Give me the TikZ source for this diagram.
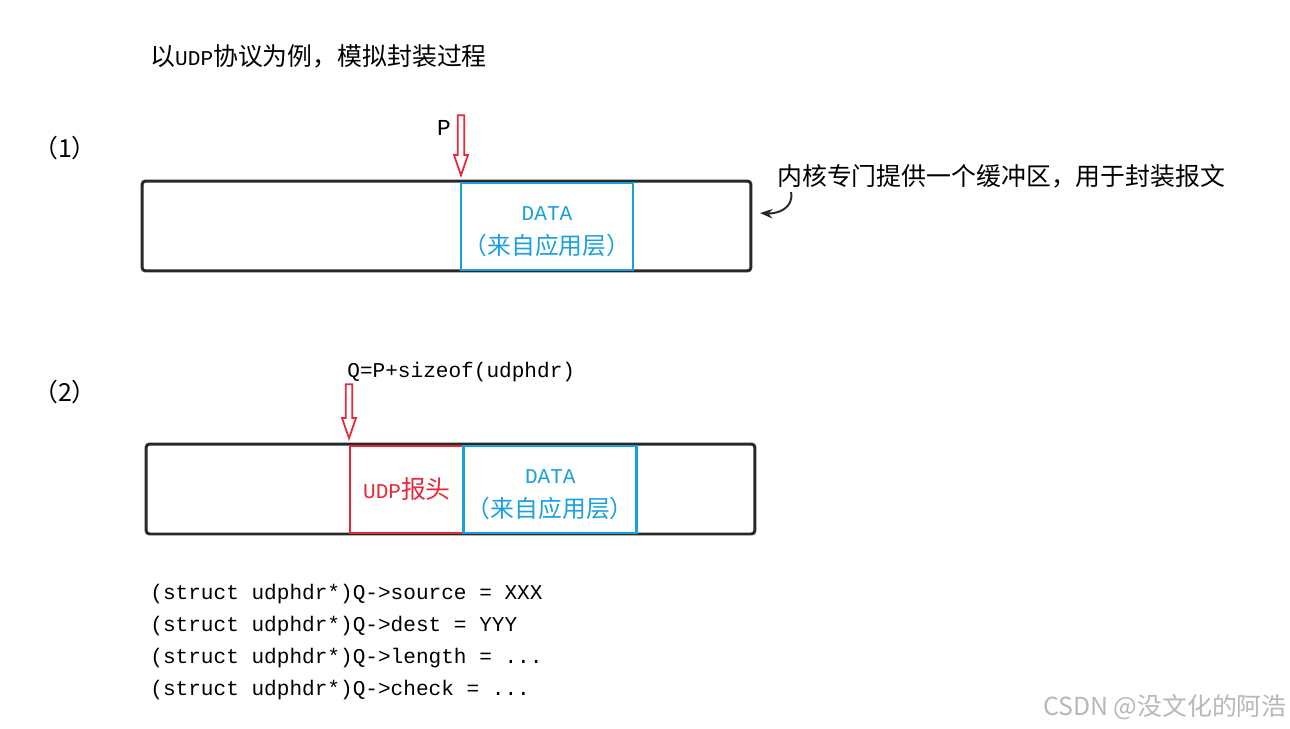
\documentclass[tikz,border=0pt]{standalone}
\usepackage{fontspec}
\usepackage{tikz}
\usepackage{xcolor}
\usetikzlibrary{positioning, shapes.arrows, arrows.meta}
\setmainfont{Liberation Mono}
\newfontfamily\cjk{Noto Sans CJK SC}[Scale=1.18]
\definecolor{data-blue}{RGB}{26, 160, 224}
\definecolor{hdr-red}{RGB}{232, 40, 58}
\definecolor{buf-black}{RGB}{40, 40, 40}

\begin{document}
\begin{tikzpicture}[x=0.02cm, y=-0.02cm]
				\tikzset{txt/.style={font=\fontsize{12}{14}\selectfont, inner sep=0pt}}
				\tikzset{buf/.style={rectangle, draw=buf-black, line width=1.7pt, rounded corners=2pt, minimum width=12.18cm, minimum height=1.8cm}}
				\tikzset{data/.style={rectangle, draw=data-blue, line width=1.6pt, inner sep=1pt, minimum width=3.44cm, minimum height=1.74cm, text=data-blue, align=center, font=\fontsize{11.5}{18}\selectfont}}
				\tikzset{hdr/.style={rectangle, draw=hdr-red, line width=1.4pt, minimum width=2.28cm, minimum height=1.74cm, text=hdr-red, font=\fontsize{12}{14}\selectfont}}
				\tikzset{ptr/.style={single arrow, draw=hdr-red, line width=1pt, rotate=-90, inner sep=0.045cm, minimum width=0.28cm, single arrow head extend=0.07cm, single arrow tip angle=38, anchor=tip}}
				\newcommand{\datatext}{\rule{0pt}{14pt}{\fontsize{12}{14}\selectfont DATA}\\[1pt]{\cjk （来自应用层）}}
				\useasboundingbox (0,0) rectangle (1290,729);
				
				\node[txt, anchor=west, font=\fontsize{12}{14}\selectfont] (title) at (150,56) {{\cjk 以}UDP{\cjk 协议为例，模拟封装过程}};
				
				% (1)
				\node[txt] (step1) at (65,148) {\cjk （1）};
				\node[buf] (buf1) at (446.5,226) {};
				\node[data] (data1) at (547,226.5) {\datatext};
				\node[ptr, minimum height=1.2cm] (parr) at (461,178) {};
				\node[txt, font=\fontsize{13}{15}\selectfont] (plabel) at (444,128) {P};
				\node[txt, anchor=west] (note) at (777,176) {\cjk 内核专门提供一个缓冲区，用于封装报文};
				\coordinate (notearr) at (791,192);
				\draw[-{Stealth[scale=0.9]}, buf-black, line width=1.1pt] (notearr) .. controls (794,208) and (778,214) .. (760,213);
				
				% (2)
				\node[txt] (step2) at (65,392) {\cjk （2）};
				\node[txt, anchor=west] (qlabel) at (347,372) {Q=P+sizeof(udphdr)};
				\node[buf] (buf2) at (450.5,489) {};
				\node[hdr] (udph) at (407,489.5) {UDP{\cjk 报头}};
				\node[data, minimum width=3.46cm, right=-1.6pt of udph] (data2) {\datatext};
				\node[ptr, minimum height=1.08cm] (qarr) at (349,441) {};
				
				\node[txt, anchor=north west, align=left, font=\fontsize{12}{32\dimexpr 0.02cm\relax}\selectfont] (code) at (150,584)
				{(struct udphdr*)Q->source = XXX\\
				 (struct udphdr*)Q->dest = YYY\\
				 (struct udphdr*)Q->length = ...\\
				 (struct udphdr*)Q->check = ...};
				
				\node[txt, anchor=east, text=black!28] (mark) at (1287,707) {\cjk\fontsize{12}{14}\selectfont CSDN @没文化的阿浩};
\end{tikzpicture}
\end{document}
